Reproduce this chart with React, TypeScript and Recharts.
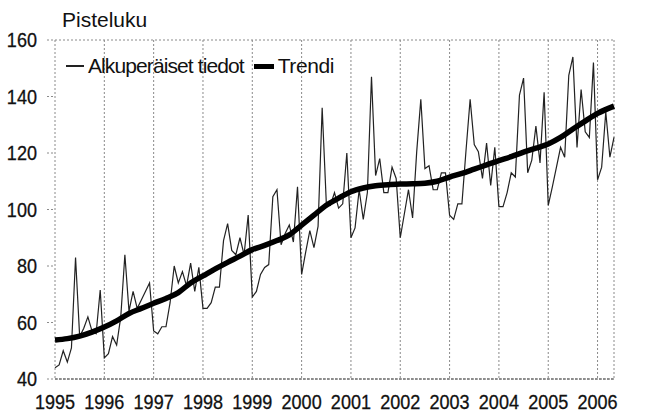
import { CartesianGrid, Line, LineChart, XAxis, YAxis } from "recharts"

const years = [1995, 1996, 1997, 1998, 1999, 2000, 2001, 2002, 2003, 2004, 2005, 2006]

// monthly index values, Jan 1995 .. May 2006
const original = [
  44, 45, 50, 46, 51, 83, 55, 58, 62, 57, 56, 71.5,
  47.5, 49, 55, 52, 62, 84, 64, 71, 65, 68, 71, 74,
  57, 56, 58.5, 58.5, 67, 80, 74, 78, 73, 81, 71, 79.5,
  65, 65, 67, 72.5, 72.5, 89, 95, 85.5, 84, 90, 84, 98,
  69, 71, 77, 79.5, 80.5, 104.5, 107, 87.5, 91.5, 94.5, 88.5, 108,
  77, 85, 92.5, 86.5, 94, 136, 102.5, 101.5, 106, 100.5, 102, 120,
  90, 93.5, 107, 96.5, 106, 147, 112, 118, 106, 106, 115, 111,
  90, 98.5, 107, 97, 120.5, 139, 114.5, 115.5, 107, 107, 113, 113,
  98, 96.5, 102, 102, 121, 139, 123, 120.5, 111, 123.5, 108.5, 122,
  101, 101, 106, 113, 111.5, 140.5, 146.5, 113, 117.5, 129.5, 116.5, 141.5,
  101.5, 108, 115, 122, 118.5, 147.5, 154, 122, 142.5, 127.5, 125.5, 152,
  110.5, 115, 134.5, 118.5, 125.5,
]

const trendMonths = [
  0, 3, 6, 9, 12, 15, 18, 21, 24, 27, 30, 33, 36, 39, 42, 45, 48, 51, 54, 57,
  60, 63, 66, 69, 72, 75, 78, 81, 84, 87, 90, 93, 96, 99, 102, 105, 108, 111,
  114, 117, 120, 123, 126, 129, 132, 136,
]
const trendValues = [
  53.8, 54.3, 55.2, 56.6, 58.4, 60.6, 63.2, 65, 66.8, 68.5, 70.6, 74, 76.5, 79, 81.3, 83.5, 85.8, 87.3, 89, 91,
  94.5, 98, 101.5, 104, 106.3, 107.6, 108.4, 108.8, 109, 109.1, 109.3, 110, 111.5, 112.8, 114.3, 115.8, 117.3, 118.7,
  120.3, 121.7, 123.2, 125.5, 128.5, 131.3, 134, 136.6,
]

const yTicks = [40, 60, 80, 100, 120, 140, 160]
const xTicks = [...years.map((_, k) => k * 12), 136]

const data = original.map((v, i) => {
  const k = trendMonths.indexOf(i)
  return { i, original: v, trend: k >= 0 ? trendValues[k] : null }
})

const font = '"Liberation Sans", Arial, sans-serif'
const gridLine = { stroke: "#8a8a8a", strokeDasharray: "2 2" }

// narrow-looking tick text (the source uses a condensed face)
const narrowTick = (fmt: (v: number) => string) => (props: any) => {
  const { x, y, payload, textAnchor, verticalAnchor } = props
  return (
    <text
      transform={`translate(${x},${y}) scale(0.86,1)`}
      textAnchor={textAnchor}
      dy={verticalAnchor === "start" ? "0.71em" : "0.355em"}
      fill="#111"
      stroke="#111"
      strokeWidth={0.3}
      fontSize={21}
      fontFamily={font}
    >
      {fmt(payload.value)}
    </text>
  )
}

const yearTick = narrowTick((v) => (v % 12 === 0 ? String(years[v / 12]) : ""))
const valueTick = narrowTick((v) => String(v))

export default function App() {
  return (
    <div style={{ position: "absolute", left: 0, top: 0, width: 662, height: 415, background: "#fff" }}>
      <LineChart width={662} height={415} data={data} margin={{ top: 40, right: 0, bottom: 0, left: 0 }}>
        <CartesianGrid stroke="#8a8a8a" strokeDasharray="2 2" />
        <XAxis
          dataKey="i"
          type="number"
          domain={[0, 136]}
          ticks={xTicks}
          tick={yearTick}
          tickLine={false}
          tickSize={0}
          tickMargin={15}
          height={36}
          axisLine={{ stroke: "#555", strokeDasharray: "3 1" }}
          interval={0}
        />
        <YAxis
          yAxisId="l"
          orientation="left"
          domain={[40, 160]}
          ticks={yTicks}
          width={55}
          tick={valueTick}
          tickLine={gridLine}
          tickSize={8}
          tickMargin={10}
          axisLine={false}
        />
        <YAxis
          yAxisId="r"
          orientation="right"
          domain={[40, 160]}
          ticks={yTicks}
          width={48}
          tick={valueTick}
          tickLine={gridLine}
          tickSize={8}
          tickMargin={3}
          axisLine={false}
        />
        <Line
          yAxisId="l"
          dataKey="original"
          stroke="#222"
          strokeWidth={1.2}
          dot={false}
          isAnimationActive={false}
        />
        <Line
          yAxisId="l"
          dataKey="trend"
          type="monotone"
          connectNulls
          stroke="#000"
          strokeWidth={5.5}
          dot={false}
          isAnimationActive={false}
        />
      </LineChart>
      <div style={{ position: "absolute", left: 62, top: 8, fontFamily: font, fontSize: 21, color: "#111" }}>
        Pisteluku
      </div>
      <div
        style={{
          position: "absolute",
          left: 66,
          top: 54,
          display: "flex",
          alignItems: "center",
          fontFamily: font,
          fontSize: 21,
          color: "#111",
          whiteSpace: "nowrap",
        }}
      >
        <span style={{ display: "inline-block", width: 18, height: 1.2, background: "#222", marginRight: 4 }} />
        <span style={{ letterSpacing: -0.9 }}>Alkuperäiset tiedot</span>
        <span style={{ display: "inline-block", width: 20, height: 5, background: "#000", marginLeft: 10, marginRight: 4 }} />
        <span style={{ letterSpacing: -0.4 }}>Trendi</span>
      </div>
    </div>
  )
}
